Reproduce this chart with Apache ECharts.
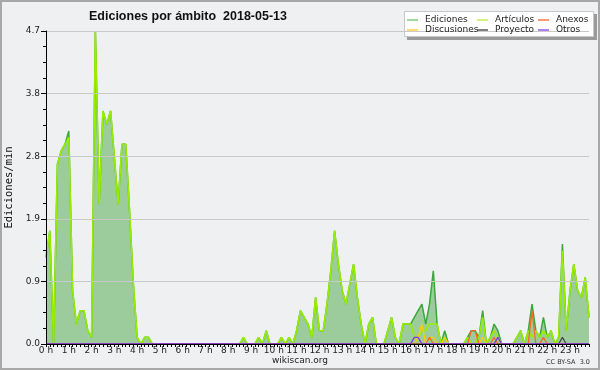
<!DOCTYPE html>
<html>
<head>
<meta charset="utf-8">
<script src="https://cdn.jsdelivr.net/npm/echarts@6/dist/echarts.min.js"></script>
<style>html,body{margin:0;padding:0;background:#eff0f1;}#c{width:600px;height:370px;}</style>
</head>
<body>
<div id="c"></div>
<script>
// Hour tick labels
const hourLabels = ['0 h','1 h','2 h','3 h','4 h','5 h','6 h','7 h','8 h','9 h','10 h','11 h',
  '12 h','13 h','14 h','15 h','16 h','17 h','18 h','19 h','20 h','21 h','22 h','23 h'];
const yTicks = [0, 0.94, 1.88, 2.82, 3.76, 4.7];

// Edits per minute, one value per 10-minute slot (144 slots)
const ediciones = [
  1.3,1.7,0,2.7,2.9,3.0,3.2,0.8,0.3,0.5,0.5,0.2,
  0.1,4.7,2.1,3.5,3.3,3.5,2.8,2.1,3.0,3.0,2.0,0.9,
  0.1,0,0.1,0.1,0,0,0,0,0,0,0,0,
  0,0,0,0,0,0,0,0,0,0,0,0,
  0,0,0,0,0.1,0,0,0,0.1,0,0.2,0,
  0,0,0.1,0,0.1,0,0.2,0.5,0.4,0.3,0.1,0.7,
  0.2,0.2,0.6,1.1,1.7,1.2,0.8,0.6,0.9,1.2,0.7,0.3,
  0,0.3,0.4,0,0,0,0.2,0.4,0.1,0,0.3,0.3,
  0.3,0.4,0.5,0.6,0.3,0.6,1.1,0.3,0,0.2,0,0,
  0,0,0,0.1,0.2,0.2,0.1,0.5,0,0.1,0.3,0.2,
  0,0,0,0,0.1,0.2,0,0.2,0.6,0.2,0.1,0.4,
  0.1,0.2,0,0.1,1.5,0.2,0.8,1.2,0.8,0.7,1.0,0.4
];
const articulos = [
  1.3,1.7,0,2.7,2.9,3.0,3.1,0.8,0.3,0.5,0.5,0.2,
  0.1,4.7,2.1,3.5,3.3,3.5,2.8,2.1,3.0,3.0,2.0,0.9,
  0.1,0,0.1,0.1,0,0,0,0,0,0,0,0,
  0,0,0,0,0,0,0,0,0,0,0,0,
  0,0,0,0,0.1,0,0,0,0.1,0,0.2,0,
  0,0,0.1,0,0.1,0,0.2,0.5,0.4,0.3,0.1,0.7,
  0.2,0.2,0.6,1.1,1.7,1.2,0.8,0.6,0.9,1.2,0.7,0.3,
  0,0.3,0.4,0,0,0,0.2,0.4,0.1,0,0.3,0.3,
  0.3,0.1,0.1,0.2,0.2,0.3,0.3,0.3,0,0.1,0,0,
  0,0,0,0.1,0,0,0.1,0.4,0,0.1,0.2,0.1,
  0,0,0,0,0.1,0.2,0,0.2,0.1,0.2,0.1,0.2,
  0.1,0.2,0,0.1,1.4,0.2,0.8,1.2,0.8,0.7,1.0,0.4
];
const anexos = [
  0,0,0,0,0,0,0,0,0,0,0,0,
  0,0,0,0,0,0,0,0,0,0,0,0,
  0,0,0,0,0,0,0,0,0,0,0,0,
  0,0,0,0,0,0,0,0,0,0,0,0,
  0,0,0,0,0,0,0,0,0,0,0,0,
  0,0,0,0,0,0,0,0,0,0,0,0,
  0,0,0,0,0,0,0,0,0,0,0,0,
  0,0,0,0,0,0,0,0,0,0,0,0,
  0,0,0,0,0,0.1,0,0,0,0,0,0,
  0,0,0,0,0.2,0.2,0,0,0,0,0.1,0,
  0,0,0,0,0,0,0,0,0.5,0,0,0.1,
  0,0,0,0,0,0,0,0,0,0,0,0
];
const discusiones = [
  0,0,0,0,0,0,0,0,0,0,0,0,
  0,0,0,0,0,0,0,0,0,0,0,0,
  0,0,0,0,0,0,0,0,0,0,0,0,
  0,0,0,0,0,0,0,0,0,0,0,0,
  0,0,0,0,0,0,0,0,0,0,0,0,
  0,0,0,0,0,0,0,0,0,0,0,0,
  0,0,0,0,0,0,0,0,0,0,0,0,
  0,0,0,0,0,0,0,0,0,0,0,0,
  0,0,0.1,0.3,0,0.1,0.1,0,0,0.1,0,0,
  0,0,0,0,0,0,0,0.1,0,0,0,0,
  0,0,0,0,0,0,0,0,0,0,0,0,
  0,0,0,0,0,0,0,0,0,0,0,0
];
const proyecto = [
  0,0,0,0,0,0,0,0,0,0,0,0,
  0,0,0,0,0,0,0,0,0,0,0,0,
  0,0,0,0,0,0,0,0,0,0,0,0,
  0,0,0,0,0,0,0,0,0,0,0,0,
  0,0,0,0,0,0,0,0,0,0,0,0,
  0,0,0,0,0,0,0,0,0,0,0,0,
  0,0,0,0,0,0,0,0,0,0,0,0,
  0,0,0,0,0,0,0,0,0,0,0,0,
  0,0,0,0,0,0,0,0,0,0,0,0,
  0,0,0,0,0,0,0,0,0,0,0,0,
  0,0,0,0,0,0,0,0,0,0,0,0,
  0,0,0,0,0.1,0,0,0,0,0,0,0
];
const otros = [
  0,0,0,0,0,0,0,0,0,0,0,0,
  0,0,0,0,0,0,0,0,0,0,0,0,
  0,0,0,0,0,0,0,0,0,0,0,0,
  0,0,0,0,0,0,0,0,0,0,0,0,
  0,0,0,0,0,0,0,0,0,0,0,0,
  0,0,0,0,0,0,0,0,0,0,0,0,
  0,0,0,0,0,0,0,0,0,0,0,0,
  0,0,0,0,0,0,0,0,0,0,0,0,
  0,0.1,0.1,0,0,0,0,0,0,0,0,0,
  0,0,0,0,0,0,0,0,0,0,0,0.1,
  0,0,0,0,0,0,0,0,0,0,0,0,
  0,0,0,0,0,0,0,0,0,0,0,0
];

// categories: 10-minute slots
const categories = [];
hourLabels.forEach(function (h) {
  for (let m = 0; m < 6; m++) categories.push(m === 0 ? h : h + ':' + m + '0');
});

const FONT = 'DejaVu Sans';
const chart = echarts.init(document.getElementById('c'), null, {renderer: 'canvas'});

function lineSeries(name, data, color, width, z, extra) {
  return Object.assign({
    name: name, type: 'line', data: data, symbol: 'none', silent: true,
    lineStyle: {color: color, width: width}, itemStyle: {color: color},
    z: z, animation: false
  }, extra || {});
}

function colLegend(left, items) {
  return {
    orient: 'vertical', left: left, top: 15, itemGap: 0, z: 50, padding: 0,
    itemWidth: 11, itemHeight: 1.5, icon: 'rect', selectedMode: false,
    textStyle: {fontFamily: FONT, fontSize: 9, color: '#222', lineHeight: 10, padding: [0,0,0,2]},
    data: items
  };
}

chart.setOption({
  backgroundColor: '#eff0f1',
  animation: false,
  title: {
    text: 'Ediciones por ámbito  2018-05-13', left: 84, top: 5,
    textStyle: {fontFamily: 'Liberation Sans', fontWeight: 'bold', fontSize: 12.5, color: '#111'}
  },
  legend: [
    colLegend(407, [{name: 'Ediciones', itemStyle: {color: '#7fcc7f'}}, {name: 'Discusiones', itemStyle: {color: '#ffcc44'}}]),
    colLegend(477, [{name: 'Artículos', itemStyle: {color: '#c8ee55'}}, {name: 'Proyecto', itemStyle: {color: '#555555'}}]),
    colLegend(538, [{name: 'Anexos', itemStyle: {color: '#ff7744'}}, {name: 'Otros', itemStyle: {color: '#9955ee'}}])
  ],
  grid: {left: 46, right: 11, top: 31, bottom: 26, containLabel: false, outerBoundsMode: 'none'},
  xAxis: {
    type: 'category', data: categories, boundaryGap: false, z: 10,
    axisLine: {lineStyle: {color: '#000', width: 1}},
    axisTick: {show: true, interval: 0, length: 3, lineStyle: {color: '#000'}},
    axisLabel: {
      interval: function (idx) { return idx % 6 === 0; },
      margin: 2, fontFamily: FONT, fontSize: 9, color: '#222'
    },
    splitLine: {show: false}
  },
  yAxis: {
    type: 'value', min: yTicks[0], max: yTicks[yTicks.length - 1], interval: yTicks[1], z: 10,
    name: 'Ediciones/min', nameLocation: 'middle', nameRotate: 90, nameGap: 31,
    nameTextStyle: {fontFamily: 'DejaVu Sans Mono', fontSize: 10.5, color: '#111'},
    axisLine: {show: true, lineStyle: {color: '#000', width: 1}},
    axisTick: {show: true, length: 5, lineStyle: {color: '#000'}},
    minorTick: {show: true, splitNumber: 4, length: 3, lineStyle: {color: '#000'}},
    axisLabel: {
      formatter: function (v) { return v.toFixed(1); },
      margin: 6, fontFamily: FONT, fontSize: 9, color: '#222'
    },
    splitLine: {show: true, lineStyle: {color: '#c8c8c8', width: 1}}
  },
  series: [
    lineSeries('Ediciones', ediciones, '#3aa83a', 1.5, 2, {areaStyle: {color: '#9ccc9c', opacity: 1}}),
    lineSeries('Artículos', articulos, '#99ee00', 1.6, 3),
    lineSeries('Discusiones', discusiones, '#ffcc00', 1.3, 4),
    lineSeries('Anexos', anexos, '#ff6622', 1.3, 5),
    lineSeries('Proyecto', proyecto, '#444444', 1.2, 6),
    lineSeries('Otros', otros, '#8833ee', 1.3, 7)
  ],
  graphic: [
    {type: 'rect', z: -10, silent: true, shape: {x: 1, y: 1, width: 598, height: 368},
     style: {fill: 'none', stroke: '#a8a8a8', lineWidth: 2}},
    {type: 'rect', z: 1, silent: true, shape: {x: 407, y: 14, width: 190, height: 26},
     style: {fill: '#9a9a9a'}},
    {type: 'rect', z: 2, silent: true, shape: {x: 404.5, y: 11.5, width: 189, height: 25},
     style: {fill: '#ffffff', stroke: '#c8c8c8', lineWidth: 1}},
    {type: 'text', z: 20, silent: true, x: 300, y: 361,
     style: {text: 'wikiscan.org', fontFamily: FONT, fontSize: 9, fill: '#222', align: 'center', verticalAlign: 'middle'}},
    {type: 'text', z: 20, silent: true, x: 590, y: 362,
     style: {text: 'CC BY-SA  3.0', fontFamily: FONT, fontSize: 6.5, fill: '#333', align: 'right', verticalAlign: 'middle'}}
  ]
});
</script>
</body>
</html>
